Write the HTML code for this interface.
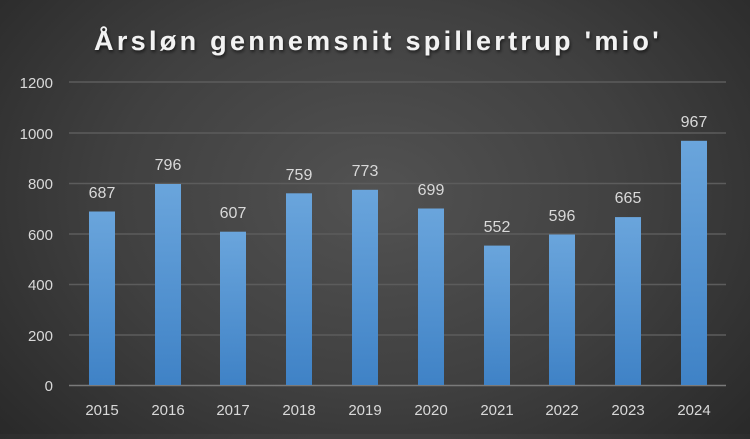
<!DOCTYPE html>
<html><head><meta charset="utf-8"><style>
html,body{margin:0;padding:0}
body{width:750px;height:434px;overflow:hidden;background:radial-gradient(ellipse 70% 90% at 50% 45%,#525252 0%,#404040 50%,#262626 100%);font-family:"Liberation Sans",sans-serif}
</style></head><body>
<svg width="750" height="434" xmlns="http://www.w3.org/2000/svg">
<defs>
<linearGradient id="b" x1="0" y1="0" x2="0" y2="1"><stop offset="0" stop-color="#6aa5dc"/><stop offset="1" stop-color="#3f82c6"/></linearGradient>
<filter id="s"><feDropShadow dx="1" dy="2" stdDeviation="1.5" flood-color="#000" flood-opacity="0.6"/></filter>
</defs>
<text x="378" y="50" text-anchor="middle" font-size="27" font-weight="bold" fill="#f2f2f2" letter-spacing="3.3" filter="url(#s)" font-family="Liberation Sans,sans-serif">Årsløn gennemsnit spillertrup 'mio'</text>
<g stroke="#5c5c5c" stroke-width="1.5">
<line x1="69" x2="726" y1="82" y2="82"/><line x1="69" x2="726" y1="133" y2="133"/><line x1="69" x2="726" y1="183.5" y2="183.5"/><line x1="69" x2="726" y1="234" y2="234"/><line x1="69" x2="726" y1="284.5" y2="284.5"/><line x1="69" x2="726" y1="335" y2="335"/>
</g>
<line x1="69" x2="726" y1="385.5" y2="385.5" stroke="#7a7a7a" stroke-width="1.5"/>
<g fill="#d9d9d9" font-size="15" text-anchor="end">
<text x="53" y="88">1200</text><text x="53" y="139">1000</text><text x="53" y="189">800</text><text x="53" y="240">600</text><text x="53" y="290">400</text><text x="53" y="341">200</text><text x="53" y="391">0</text>
</g>
<g fill="url(#b)">
<rect x="89" y="211.5" width="26" height="173.5"/>
<rect x="155" y="184" width="26" height="201"/>
<rect x="220" y="231.7" width="26" height="153.3"/>
<rect x="286" y="193.3" width="26" height="191.7"/>
<rect x="352" y="189.8" width="26" height="195.2"/>
<rect x="418" y="208.5" width="26" height="176.5"/>
<rect x="484" y="245.6" width="26" height="139.4"/>
<rect x="549" y="234.5" width="26" height="150.5"/>
<rect x="615" y="217.1" width="26" height="167.9"/>
<rect x="681" y="140.8" width="26" height="244.2"/>
</g>
<g fill="#d9d9d9" font-size="16" text-anchor="middle">
<text x="102" y="198">687</text><text x="168" y="170">796</text><text x="233" y="218">607</text><text x="299" y="180">759</text><text x="365" y="176">773</text><text x="431" y="195">699</text><text x="497" y="232">552</text><text x="562" y="221">596</text><text x="628" y="203">665</text><text x="694" y="127">967</text>
</g>
<g fill="#d9d9d9" font-size="15" text-anchor="middle">
<text x="102" y="415">2015</text><text x="168" y="415">2016</text><text x="233" y="415">2017</text><text x="299" y="415">2018</text><text x="365" y="415">2019</text><text x="431" y="415">2020</text><text x="497" y="415">2021</text><text x="562" y="415">2022</text><text x="628" y="415">2023</text><text x="694" y="415">2024</text>
</g>
</svg>
</body></html>
